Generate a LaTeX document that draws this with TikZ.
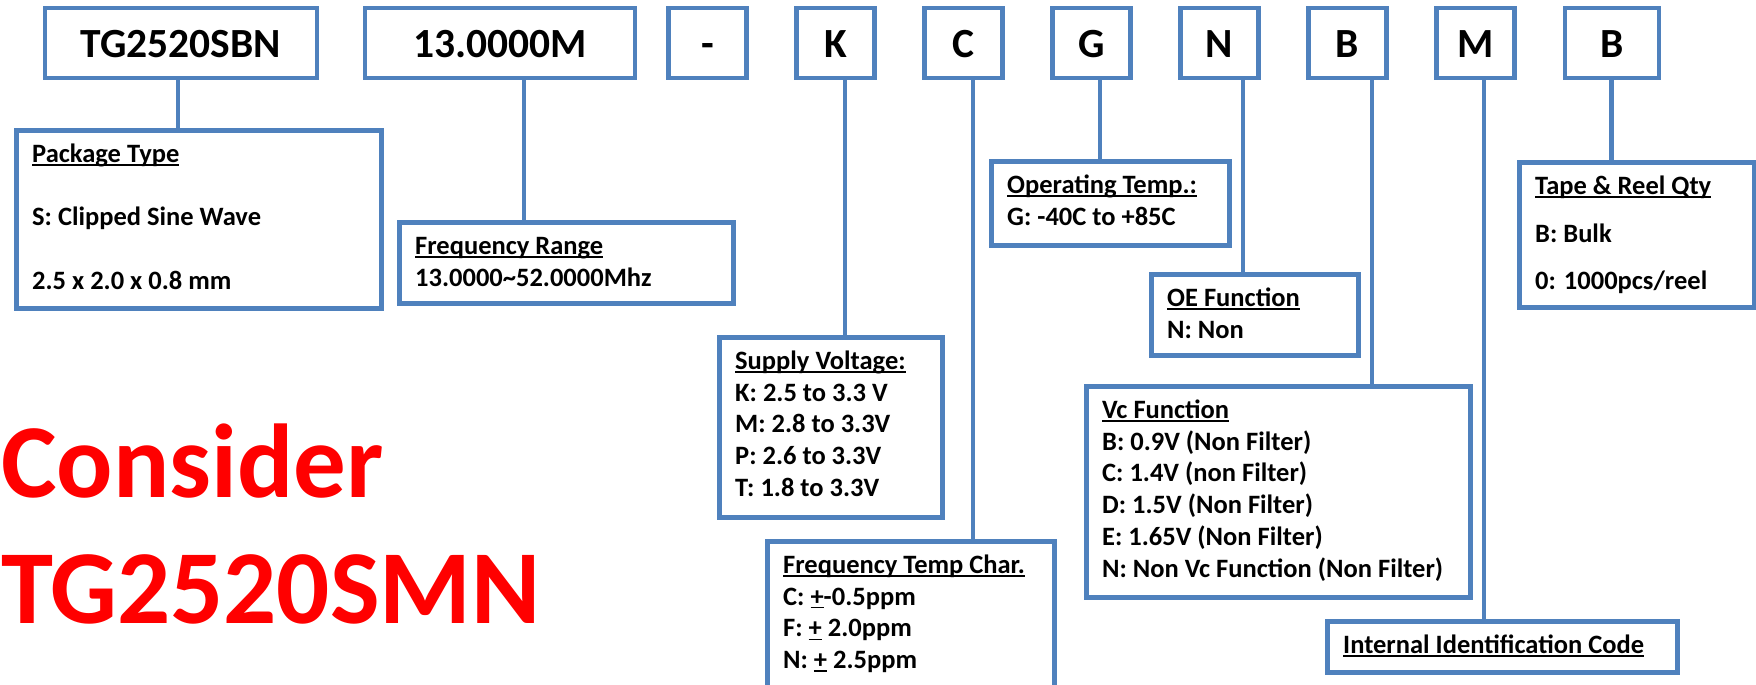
\documentclass[tikz,border=0pt]{standalone}
\usepackage{fontspec}
\setmainfont{Carlito}
\usetikzlibrary{positioning}
\definecolor{boxblue}{HTML}{4F81BD}
\newcommand{\hdr}[1]{\setbox0\hbox{#1}\rlap{\rule[-3pt]{\wd0}{1.3pt}}\box0\relax}
\newcommand{\boxrows}[1]{\begin{tabular}[t]{@{}l@{}}#1\end{tabular}}
\tikzset{
  wire/.style={draw=boxblue,line width=4.5pt},
  code/.style={draw=boxblue,line width=4.5pt,minimum height=70pt,inner sep=0pt,
    text height=30pt,text depth=0pt,font=\fontsize{41.5}{50}\selectfont\bfseries},
  info/.style={draw=boxblue,line width=4.5pt,anchor=north west,inner sep=0pt},
  txt/.style={anchor=base west,inner sep=0pt,font=\fontsize{26.5}{31.7}\selectfont\bfseries}
}
\begin{document}
\begin{tikzpicture}[x=1pt,y=-1pt]
\useasboundingbox (0,0) rectangle (1756,685);

% part number boxes
\path
(181,43)   node[code,minimum width=272pt] (tg) {TG2520SBN}
(500,43)   node[code,minimum width=270pt] (fq) {13.0000M}
(1612,43)  node[code,minimum width=94pt]  (qty) {B};
\foreach \c [count=\i from 0] in {-,K,C,G,N,B,M}
  \node[code,minimum width=78pt] (c\i) at (707.5+128*\i,43) {\c};

% description boxes
\node[info,minimum width=365pt,minimum height=178pt] (pkg) at (14,128) {};
\node[info,minimum width=334pt,minimum height=81pt]  (rng) at (397,220) {};
\node[info,minimum width=223pt,minimum height=180pt] (sup) at (717,335) {};
\node[info,minimum width=287pt,minimum height=150pt] (ftc) at (765,539) {};
\node[info,minimum width=238pt,minimum height=84pt]  (opt) at (989,159) {};
\node[info,minimum width=207pt,minimum height=81pt]  (oe)  at (1149,272) {};
\node[info,minimum width=384pt,minimum height=211pt] (vc)  at (1084,384) {};
\node[info,minimum width=350pt,minimum height=51pt]  (iic) at (1325,619) {};
\node[info,minimum width=235pt,minimum height=145pt] (tr)  at (1517,160) {};

\node[txt] at ([shift={(18,34.5)}]pkg.north west) {\boxrows{\hdr{Package Type}\\[31.7pt]
  S: Clipped Sine Wave\\[31.7pt] 2.5 x 2.0 x 0.8 mm}};
\node[txt] at ([shift={(18,34.5)}]rng.north west) {\boxrows{\hdr{Frequency Range}\\
  13.0000\textasciitilde52.0000Mhz}};
\node[txt] at ([shift={(18,34.5)}]sup.north west) {\boxrows{\hdr{Supply Voltage:}\\
  K: 2.5 to 3.3 V\\ M: 2.8 to 3.3V\\ P: 2.6 to 3.3V\\ T: 1.8 to 3.3V}};
\node[txt] at ([shift={(18,34.5)}]ftc.north west) {\boxrows{\hdr{Frequency Temp Char.}\\
  C: \hdr{+}-0.5ppm\\ F: \hdr{+} 2.0ppm\\ N: \hdr{+} 2.5ppm}};
\node[txt] at ([shift={(18,34.5)}]opt.north west) {\boxrows{\hdr{Operating Temp.:}\\
  G: -40C to +85C}};
\node[txt] at ([shift={(18,34.5)}]oe.north west) {\boxrows{\hdr{OE Function}\\ N: Non}};
\node[txt] at ([shift={(18,34.5)}]vc.north west) {\boxrows{\hdr{Vc Function}\\
  B: 0.9V (Non Filter)\\ C: 1.4V (non Filter)\\ D: 1.5V (Non Filter)\\
  E: 1.65V (Non Filter)\\ N: Non Vc Function (Non Filter)}};
\node[txt] at ([shift={(18,34.5)}]iic.north west) {\hdr{Internal Identification Code}};
\node[txt] at ([shift={(18,34.5)}]tr.north west) {\boxrows{\hdr{Tape \& Reel Qty}\\[15.8pt]
  B: Bulk\\[15.8pt] 0: 1000pcs/reel}};

% connectors
\foreach \a/\b/\x in {tg/pkg/178,fq/rng/524,c1/sup/845,c2/ftc/973,c3/opt/1100,
    c4/oe/1243,c5/vc/1372,c6/iic/1484,qty/tr/1611.5}
  \draw[wire] (\a.south -| \x,0) -- (\b.north -| \x,0);

% note
\node[anchor=base west,inner sep=0pt,text=red,font=\fontsize{105}{120}\selectfont\bfseries]
  (cons) at (1,497) {Consider};
\node[anchor=base west,inner sep=0pt,text=red,font=\fontsize{105}{120}\selectfont\bfseries]
  (alt) at (1,623) {TG2520SMN};

\end{tikzpicture}
\end{document}
